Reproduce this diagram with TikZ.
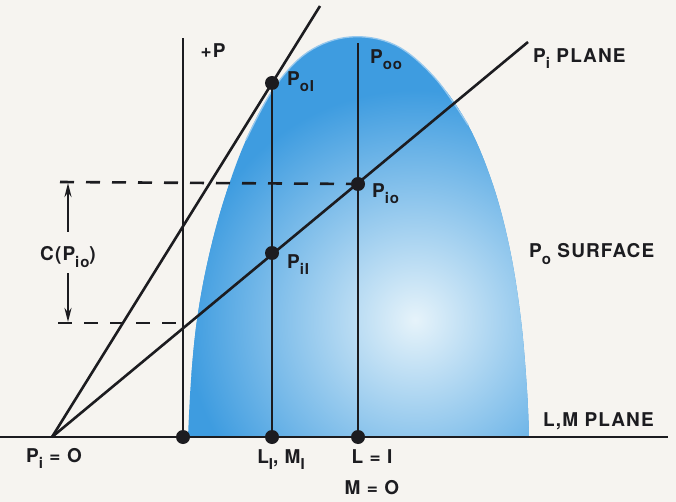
\documentclass[tikz,border=0pt]{standalone}
\usepackage{fontspec}
\setmainfont{TeX Gyre Heros}[LetterSpace=6]
\usetikzlibrary{arrows.meta}
\definecolor{ink}{RGB}{28,28,32}
\definecolor{bellblue}{RGB}{62,156,224}
\definecolor{belllight}{RGB}{230,243,250}
\definecolor{bellrim}{RGB}{150,200,238}
\definecolor{paper}{RGB}{246,244,240}
\newcommand\lsub[1]{\raisebox{-6pt}{\fontsize{15}{15}\selectfont #1}}
\tikzset{
  ln/.style={draw=ink,line width=2.6pt},
  dsh/.style={draw=ink,line width=2.6pt,dash pattern=on 14pt off 12pt},
  dotnode/.style={circle,fill=ink,inner sep=0pt,minimum size=14pt},
  lab/.style={text=ink,font=\fontsize{19}{19}\selectfont\bfseries,inner sep=0pt},
  arr/.style={draw=ink,line width=2.6pt,-{Stealth[length=14pt,width=7pt]}}
}
\begin{document}
\begin{tikzpicture}[x=1pt,y=-1pt]
\fill[paper] (0,0) rectangle (676,502);
\useasboundingbox (0,0) rectangle (676,502);
\def\bellpath{plot[smooth,tension=0.6] coordinates {(188,437) (191,380) (197,320) (208,260) (224,200) (246,140) (274,88) (308,52) (350,37) (395,45) (435,78) (468,125) (493,185) (510,250) (521,320) (527,390) (529,437)} -- cycle}
\begin{scope}
  \clip \bellpath;
  \fill[bellblue] (150,0) rectangle (560,440);
  \shade[inner color=belllight,outer color=bellblue] (415,320) circle[radius=230];
\end{scope}
\draw[bellrim,line width=1.3pt] plot[smooth,tension=0.6] coordinates {(246,140) (274,88) (308,52) (350,37) (395,45) (435,78) (468,125)};
% coordinates
\coordinate (O) at (52,437);
\coordinate (steeptop) at (320,6);
\coordinate (planetop) at (528,42);
\coordinate (axl) at (0,437);
\coordinate (axr) at (668,437);
\coordinate (ptop) at (183,38);
\coordinate (ootop) at (358,43);
\coordinate (dtl) at (60,182);
\coordinate (dbl) at (58,323);
\coordinate (dbr) at (183,323);
\coordinate (ctop) at (68,183);
\coordinate (cbot) at (68,322);
\coordinate (ca) at (68,232);
\coordinate (cb) at (68,273);
% dots
\node[dotnode] (b0) at (183,437) {};
\node[dotnode] (b1) at (272,437) {};
\node[dotnode] (b2) at (358,437) {};
\node[dotnode] (p01) at (272,83) {};
\node[dotnode] (pi1) at (272,253) {};
\node[dotnode] (pio) at (358,184) {};
% lines
\draw[ln] (axl) -- (axr);
\draw[ln] (O) -- (steeptop);
\draw[ln] (O) -- (planetop);
\draw[ln] (b0.center) -- (ptop);
\draw[ln] (b1.center) -- (p01.center);
\draw[ln] (b2.center) -- (ootop);
\draw[dsh] (dtl) -- (pio.center);
\draw[dsh] (dbl) -- (dbr);
\draw[arr] (ca) -- (ctop);
\draw[arr] (cb) -- (cbot);
% labels
\node[lab,anchor=base] (plus) at (213,58) {+P};
\node[lab,anchor=base west] (l01) at (287,86) {P\lsub{oI}};
\node[lab,anchor=base west] (l00) at (370,64) {P\lsub{oo}};
\node[lab,anchor=base west] (lio) at (372,198) {P\lsub{io}};
\node[lab,anchor=base west] (li1) at (287,268) {P\lsub{iI}};
\node[lab,anchor=base] (clab) at (68,261) {C(P\lsub{io})};
\node[lab,anchor=base west] (lplane) at (533,63) {P\lsub{i} PLANE};
\node[lab,anchor=base west] (lsurf) at (529,258) {P\lsub{o} SURFACE};
\node[lab,anchor=base west] (llm) at (543,426) {L,M PLANE};
\node[lab,anchor=base] (lpi0) at (54,462) {P\lsub{i} = O};
\node[lab,anchor=base] (llm1) at (281,463) {L\lsub{I}, M\lsub{I}};
\node[lab,anchor=base] (ll1) at (372,463) {L = I};
\node[lab,anchor=base] (lm0) at (372,494) {M = O};
\end{tikzpicture}
\end{document}
